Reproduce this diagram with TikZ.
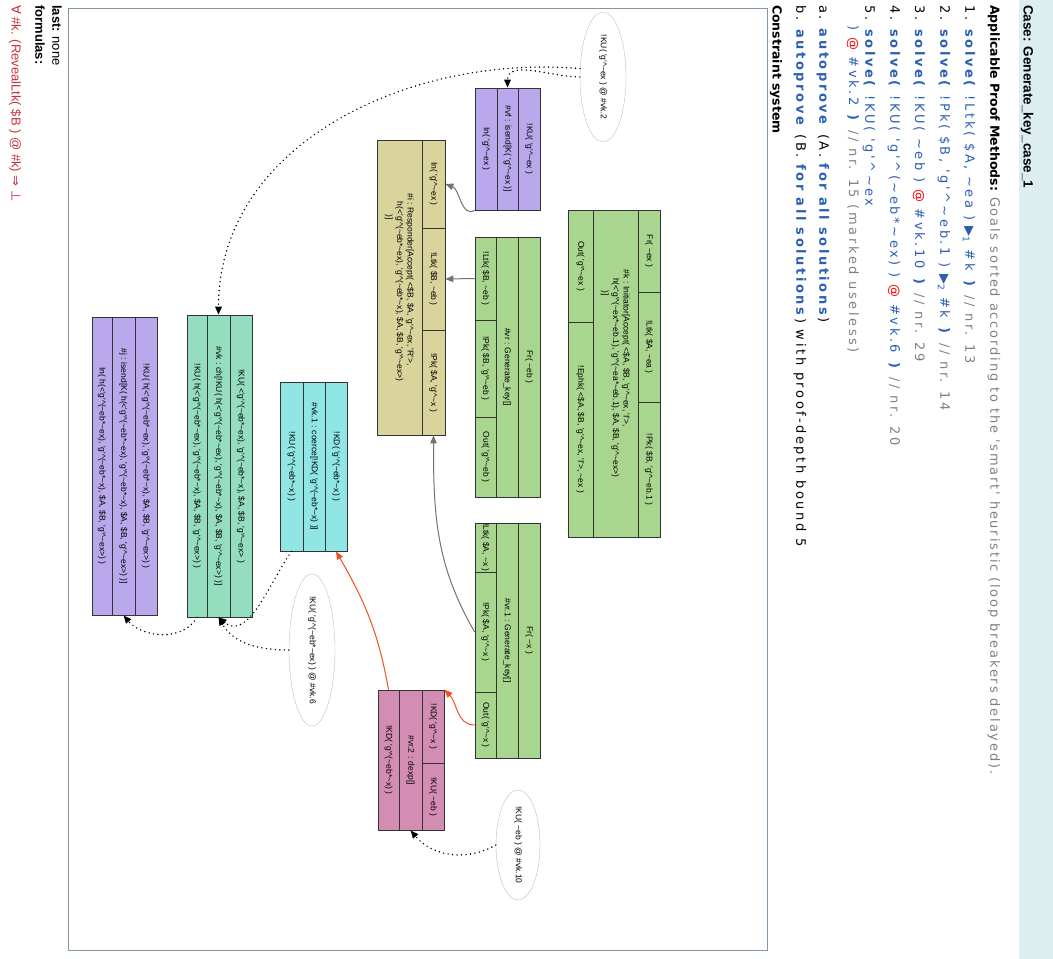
\documentclass[tikz,border=0pt]{standalone}
\usepackage{fontspec}
\setmainfont{DejaVu Sans}[Ligatures=TeXOff]
\newfontfamily\spacedfont{DejaVu Sans}[Ligatures=TeXOff, LetterSpace=14]
\newfontfamily\itemfont{DejaVu Sans}[Ligatures=TeXOff, LetterSpace=20]
\newfontfamily\titlefont{Liberation Sans}[Ligatures=TeXOff]
\newfontfamily\cellfont{Liberation Sans}[Ligatures=TeXOff]
\newfontfamily\symfont{DejaVu Sans}
\usetikzlibrary{shapes.geometric,arrows.meta}

\definecolor{headband}{HTML}{DDEEF1}
\definecolor{framec}{HTML}{7F98A6}
\definecolor{pblue}{HTML}{2B5FB4}
\definecolor{isendc}{HTML}{B9A8EC}
\definecolor{genkeyc}{HTML}{A9D68F}
\definecolor{respc}{HTML}{D9D49C}
\definecolor{dexpc}{HTML}{D48DB2}
\definecolor{coercec}{HTML}{90E6E4}
\definecolor{chc}{HTML}{94DDBF}
\definecolor{rededge}{HTML}{F0501E}
\definecolor{formred}{HTML}{C8323C}

\newcommand{\tld}{\textasciitilde}
\newcommand{\pw}{\textasciicircum}
\newcommand{\hterm}{h(<'g'\pw(\tld eb*\tld ex), 'g'\pw(\tld eb*\tld x), \$A, \$B, 'g'\pw\tld ex>)}
\newcommand{\solve}[1]{\textcolor{pblue}{\textbf{solve(} #1 \textbf{)}}}
\newcommand{\cmt}[1]{\textcolor{black!50}{#1}}
\newcommand{\atsym}{\textcolor{red}{@}}
\newcommand{\tri}[1]{{\symfont ▶}\textsubscript{#1}}

\begin{document}
\begin{tikzpicture}[x=1pt, y=-1pt,
    cell/.style={draw=black!80, line width=0.7pt, rotate=-90, inner sep=0pt,
      font=\cellfont\fontsize{8.5}{10.5}\selectfont},
    goal/.style={ellipse, draw=black!25, fill=white, rotate=-90, inner sep=0pt,
      font=\cellfont\fontsize{8.5}{10.5}\selectfont},
    txt/.style={rotate=-90, anchor=west, inner sep=0pt, font=\itemfont\fontsize{13}{15}\selectfont},
    headtxt/.style={txt, font=\bfseries\fontsize{12.5}{15}\selectfont},
    foottxt/.style={txt, font=\titlefont\fontsize{13}{15}\selectfont},
    headtip/.style={-{Triangle[length=8pt, width=6.5pt]}},
    solidedge/.style={headtip, draw=black!55, line width=1pt},
    redge/.style={headtip, draw=rededge, line width=1pt},
    dotedge/.style={headtip, draw=black, line width=1.6pt, line cap=round, dash pattern=on 0pt off 4.5pt}]
  \useasboundingbox (0,0) rectangle (1053,959);

  % header
  \fill[headband] (1019,0) rectangle (1053,959);
  \node[txt, font=\titlefont\bfseries\fontsize{13.5}{15}\selectfont] (case) at (1027,5) {Case: Generate\_key\_case\_1};
  \node[headtxt] (methods) at (994,5) {Applicable Proof Methods: {\mdseries\spacedfont\fontsize{13}{15}\selectfont\cmt{Goals sorted according to the 'smart' heuristic (loop breakers delayed).}}};
  \node[txt] (m1) at (969,5) {1. \solve{!Ltk( \$A, \tld ea ) \tri{1} \#k} \cmt{// nr. 13}};
  \node[txt] (m2) at (944,5) {2. \solve{!Pk( \$B, 'g'\pw\tld eb.1 ) \tri{2} \#k} \cmt{// nr. 14}};
  \node[txt] (m3) at (919,5) {3. \solve{!KU( \tld eb ) \atsym{} \#vk.10} \cmt{// nr. 29}};
  \node[txt] (m4) at (894,5) {4. \solve{!KU( 'g'\pw(\tld eb*\tld ex) ) \atsym{} \#vk.6} \cmt{// nr. 20}};
  \node[txt] (m5) at (869,5) {5. \textcolor{pblue}{\textbf{solve(} !KU( 'g'\pw\tld ex}};
  \node[txt] (m5b) at (853,25) {\textcolor{pblue}{) \atsym{} \#vk.2 \textbf{)}} \cmt{// nr. 15 (marked useless)}};
  \node[txt] (ma) at (823,5) {a. \textcolor{pblue}{\textbf{autoprove}} (A. \textcolor{pblue}{\textbf{for all solutions}})};
  \node[txt] (mb) at (800,5) {b. \textcolor{pblue}{\textbf{autoprove}} (B. \textcolor{pblue}{\textbf{for all solutions}}) with proof-depth bound 5};
  \node[headtxt] (cs) at (776,5) {Constraint system};

  % graph frame
  \draw[framec, line width=0.8pt] (68,8) rectangle (767,950);

  % #vf : isend
  \node[cell, fill=isendc, minimum width=122, minimum height=22] (vfP) at (529,149) {!KU( 'g'\pw\tld ex )};
  \node[cell, fill=isendc, minimum width=122, minimum height=21] (vfR) at (507.5,149) {\#vf : isend[K( 'g'\pw\tld ex )]};
  \node[cell, fill=isendc, minimum width=122, minimum height=22] (vfC) at (486,149) {In( 'g'\pw\tld ex )};

  % #k : Initiator
  \node[cell, fill=genkeyc, minimum width=82, minimum height=22] (kP1) at (649,251) {Fr( \tld ex )};
  \node[cell, fill=genkeyc, minimum width=110, minimum height=22] (kP2) at (649,347) {!Ltk( \$A, \tld ea )};
  \node[cell, fill=genkeyc, minimum width=135, minimum height=22] (kP3) at (649,469.5) {!Pk( \$B, 'g'\pw\tld eb.1 )};
  \node[cell, fill=genkeyc, minimum width=327, minimum height=45, align=left] (kR) at (615.5,373.5)
    {\#k : Initiator[Accept( <\$A, \$B, 'g'\pw\tld ex, 'I'>,\\
     \hspace*{1em}h(<'g'\pw(\tld ex*\tld eb.1), 'g'\pw(\tld ea*\tld eb.1), \$A, \$B, 'g'\pw\tld ex>)\\
     \hspace*{2.5em})]};
  \node[cell, fill=genkeyc, minimum width=112, minimum height=25] (kC1) at (580.5,266) {Out( 'g'\pw\tld ex )};
  \node[cell, fill=genkeyc, minimum width=215, minimum height=25] (kC2) at (580.5,429.5) {!Ephk( <\$A, \$B, 'g'\pw\tld ex, 'I'>, \tld ex )};

  % #vr : Generate_key
  \node[cell, fill=genkeyc, minimum width=260, minimum height=22] (vrP) at (529,367) {Fr( \tld eb )};
  \node[cell, fill=genkeyc, minimum width=260, minimum height=22] (vrR) at (507,367) {\#vr : Generate\_key[]};
  \node[cell, fill=genkeyc, minimum width=83, minimum height=21] (vrC1) at (485.5,278.5) {!Ltk( \$B, \tld eb )};
  \node[cell, fill=genkeyc, minimum width=97, minimum height=21] (vrC2) at (485.5,368.5) {!Pk( \$B, 'g'\pw\tld eb )};
  \node[cell, fill=genkeyc, minimum width=80, minimum height=21] (vrC3) at (485.5,457) {Out( 'g'\pw\tld eb )};

  % #vr.1 : Generate_key
  \node[cell, fill=genkeyc, minimum width=235, minimum height=22] (vr1P) at (529,640.5) {Fr( \tld x )};
  \node[cell, fill=genkeyc, minimum width=235, minimum height=22] (vr1R) at (507,640.5) {\#vr.1 : Generate\_key[]};
  \node[cell, fill=genkeyc, minimum width=49, minimum height=21] (vr1C1) at (485.5,547.5) {!Ltk( \$A, \tld x )};
  \node[cell, fill=genkeyc, minimum width=120, minimum height=21] (vr1C2) at (485.5,632) {!Pk( \$A, 'g'\pw\tld x )};
  \node[cell, fill=genkeyc, minimum width=66, minimum height=21] (vr1C3) at (485.5,725) {Out( 'g'\pw\tld x )};

  % #i : Responder
  \node[cell, fill=respc, minimum width=88, minimum height=23] (iP1) at (433.5,184) {In( 'g'\pw\tld ex )};
  \node[cell, fill=respc, minimum width=102, minimum height=23] (iP2) at (433.5,279) {!Ltk( \$B, \tld eb )};
  \node[cell, fill=respc, minimum width=105, minimum height=23] (iP3) at (433.5,382.5) {!Pk( \$A, 'g'\pw\tld x )};
  \node[cell, fill=respc, minimum width=295, minimum height=45, align=left] (iR) at (399.5,287.5)
    {\#i : Responder[Accept( <\$B, \$A, 'g'\pw\tld ex, 'R'>,\\
     \hspace*{1em}\hterm\\
     \hspace*{2.5em})]};

  % #vr.2 : dexp
  \node[cell, fill=dexpc, minimum width=73, minimum height=22] (vr2P1) at (433,726.5) {!KD( 'g'\pw\tld x )};
  \node[cell, fill=dexpc, minimum width=67, minimum height=22] (vr2P2) at (433,796.5) {!KU( \tld eb )};
  \node[cell, fill=dexpc, minimum width=140, minimum height=23] (vr2R) at (410.5,760) {\#vr.2 : dexp[]};
  \node[cell, fill=dexpc, minimum width=140, minimum height=21] (vr2C) at (388.5,760) {!KD( 'g'\pw(\tld eb*\tld x) )};

  % #vk.1 : coerce
  \node[cell, fill=coercec, minimum width=169, minimum height=22] (vk1P) at (336,466.5) {!KD( 'g'\pw(\tld eb*\tld x) )};
  \node[cell, fill=coercec, minimum width=169, minimum height=22] (vk1R) at (314,466.5) {\#vk.1 : coerce[!KD( 'g'\pw(\tld eb*\tld x) )]};
  \node[cell, fill=coercec, minimum width=169, minimum height=23] (vk1C) at (291.5,466.5) {!KU( 'g'\pw(\tld eb*\tld x) )};

  % #vk : ch
  \node[cell, fill=chc, minimum width=302, minimum height=22] (vkP) at (241,466) {!KU( <'g'\pw(\tld eb*\tld ex), 'g'\pw(\tld eb*\tld x), \$A, \$B, 'g'\pw\tld ex> )};
  \node[cell, fill=chc, minimum width=302, minimum height=23] (vkR) at (218.5,466) {\#vk : ch[!KU( \hterm{} )]};
  \node[cell, fill=chc, minimum width=302, minimum height=20] (vkC) at (197,466) {!KU( \hterm{} )};

  % #j : isend
  \node[cell, fill=isendc, minimum width=298, minimum height=22] (jP) at (146,466) {!KU( \hterm{} )};
  \node[cell, fill=isendc, minimum width=298, minimum height=23] (jR) at (123.5,466) {\#j : isend[K( \hterm{} )]};
  \node[cell, fill=isendc, minimum width=298, minimum height=20] (jC) at (102,466) {In( \hterm{} )};

  % open KU goals
  \node[goal, minimum width=130, minimum height=46] (E1) at (603,77) {!KU( 'g'\pw\tld ex ) @ \#vk.2};
  \node[goal, minimum width=144, minimum height=46] (E2) at (312,650) {!KU( 'g'\pw(\tld eb*\tld ex) ) @ \#vk.6};
  \node[goal, minimum width=110, minimum height=44] (E3) at (518,845) {!KU( \tld eb ) @ \#vk.10};

  % edges
  \begin{scope}[solidedge]
    \draw (vfC.south east) to[out=210, in=-20] (iP1.north);
    \draw (vrC1.south) -- (iP2.north);
    \draw (vr1C2.south) to[out=120, in=270] (iP3.east);
  \end{scope}
  \begin{scope}[redge]
    \draw (vr1C3.south) to[out=180, in=-45] (vr2P1.north west);
    \draw (vr2C.west) to[out=100, in=-60] (vk1P.east);
  \end{scope}
  \begin{scope}[dotedge]
    \draw (E1.south) to[out=180, in=90] (vfR.west);
    \draw (E1.250) to[out=175, in=90] (vkR.west);
    \draw (vk1C.east) to[out=235, in=-40] (vkR.east);
    \draw (E2.south) to[out=180, in=-60] (vkR.east);
    \draw (vkC.east) to[out=240, in=-50] (jR.east);
    \draw (E3.south) to[out=210, in=-50] (vr2R.east);
  \end{scope}

  % footer
  \node[foottxt] (last) at (57,5) {\textbf{last:} none};
  \node[foottxt, font=\titlefont\bfseries\fontsize{13}{15}\selectfont] (formulas) at (40,5) {formulas:};
  \node[foottxt, text=formred] (formula) at (15,5) {{\symfont ∀} \#k. (RevealLtk( \$B ) @ \#k) {\symfont ⇒ ⊥}};
\end{tikzpicture}
\end{document}
